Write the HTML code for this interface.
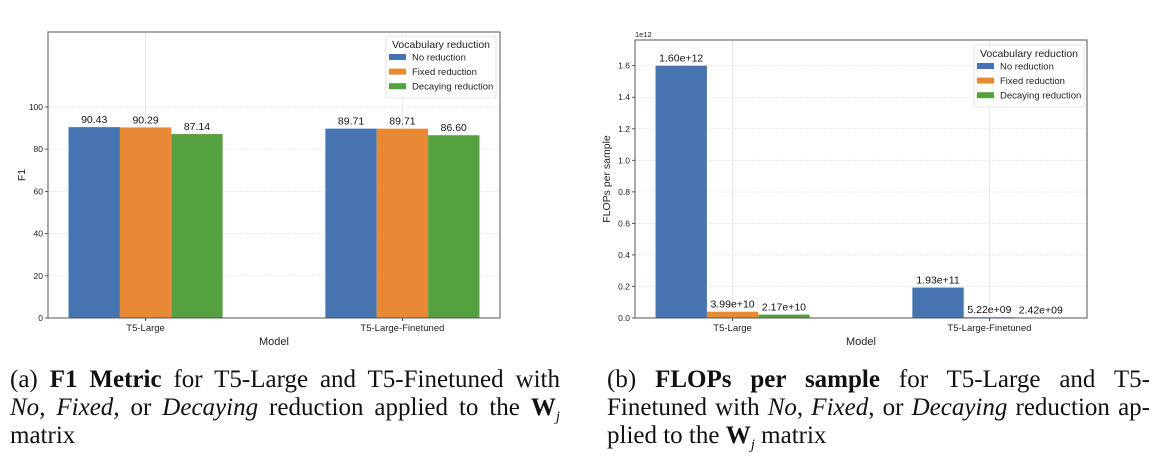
<!DOCTYPE html>
<html><head><meta charset="utf-8"><style>
body{margin:0;width:1168px;height:469px;background:#fff;overflow:hidden;position:relative;font-family:"Liberation Sans",sans-serif}
svg{position:absolute;left:0;top:0}
.cap{position:absolute;font-family:"Liberation Serif",serif;font-size:25px;line-height:28px;white-space:nowrap;color:#111}
.ln{display:block;text-align:justify;text-align-last:justify;height:28px}
</style></head><body>
<svg id="chart" width="1168" height="469" viewBox="0 0 1168 469"></svg>
<div class="cap" style="left:10px;top:366px;width:550px">
<span class="ln">(a) <b>F1 Metric</b> for T5-Large and T5-Finetuned with</span>
<span class="ln"><i>No</i>, <i>Fixed</i>, or <i>Decaying</i> reduction applied to the <b>W</b><sub style="font-size:15px"><i>j</i></sub></span>
<span class="ln" style="text-align-last:left">matrix</span>
</div>
<div class="cap" style="left:607px;top:366px;width:543px">
<span class="ln">(b) <b>FLOPs per sample</b> for T5-Large and T5-</span>
<span class="ln">Finetuned with <i>No</i>, <i>Fixed</i>, or <i>Decaying</i> reduction ap-</span>
<span class="ln" style="text-align-last:left">plied to the <b>W</b><sub style="font-size:15px"><i>j</i></sub> matrix</span>
</div>
<script>
const categories=["T5-Large","T5-Large-Finetuned"];
const seriesNames=["No reduction","Fixed reduction","Decaying reduction"];
const f1No=[90.43,89.71];
const f1Fixed=[90.29,89.71];
const f1Decay=[87.14,86.60];
const f1Labels=[["90.43","89.71"],["90.29","89.71"],["87.14","86.60"]];
const f1Ticks=[0,20,40,60,80,100];
const flNo=[1.60e12,1.93e11];
const flFixed=[3.99e10,5.22e9];
const flDecay=[2.17e10,2.42e9];
const flLabels=[["1.60e+12","1.93e+11"],["3.99e+10","5.22e+09"],["2.17e+10","2.42e+09"]];
const flTicks=[0,0.2e12,0.4e12,0.6e12,0.8e12,1.0e12,1.2e12,1.4e12,1.6e12];
const colors=["#4574b0","#e88a35","#55a03f"];
const svg=document.getElementById('chart');
const NS="http://www.w3.org/2000/svg";
function el(t,a,p){const e=document.createElementNS(NS,t);for(const k in a)e.setAttribute(k,a[k]);(p||svg).appendChild(e);return e;}
function draw(cfg){
  const g=el('g',{});
  
  
  const {L,R,T,B,ymax}=cfg;
  const xs=v=>L+(v+0.38)/(1.76)*(R-L);
  const ys=v=>B-v/ymax*(B-T);
  cfg.ticks.forEach((t,i)=>{
    const y=ys(t);
    const gl=el('line',{x1:L,x2:R,y1:y,y2:y,stroke:'#e4e4e4','stroke-width':0.8,'stroke-dasharray':'2,1'},g);
    
    
    el('line',{x1:L-3,x2:L,y1:y,y2:y,stroke:'#333','stroke-width':0.8},g);
    const tx=el('text',{x:L-5,y:y+3,'font-size':8.5,'text-anchor':'end',fill:'#222'},g);
    tx.textContent=cfg.tickFmt(t);
    
    
  });
  categories.forEach((c,i)=>{
    const x=xs(i);
    el('line',{x1:x,x2:x,y1:T,y2:B,stroke:'#e4e4e4','stroke-width':0.8},g);
  });
  cfg.series.forEach((s,si)=>{
    s.forEach((v,ci)=>{
      const x0=xs(ci+(si-1)*0.2-0.1), x1=xs(ci+(si-1)*0.2+0.1);
      const r=el('rect',{x:x0,y:ys(v),width:x1-x0,height:B-ys(v),fill:colors[si]},g);
      
      
      const t=el('text',{x:(x0+x1)/2,y:ys(v)-4,'font-size':10.5,'text-anchor':'middle',fill:'#111'},g);
      t.textContent=cfg.labels[si][ci];
      
      
    });
  });
  el('rect',{x:L,y:T,width:R-L,height:B-T,fill:'none',stroke:'#555','stroke-width':1},g);
  categories.forEach((c,i)=>{
    const x=xs(i);
    el('line',{x1:x,x2:x,y1:B,y2:B+3,stroke:'#333','stroke-width':0.8},g);
    const t=el('text',{x:x,y:B+13,'font-size':9.5,'text-anchor':'middle',fill:'#222'},g);
    t.textContent=c;
    
    
  });
  const xt=el('text',{x:(L+R)/2,y:B+27,'font-size':11,'text-anchor':'middle',fill:'#222'},g);
  xt.textContent='Model';
  
  
  const yt=el('text',{x:0,y:0,'font-size':10.5,'text-anchor':'middle',fill:'#222',transform:`translate(${cfg.ytx},${(T+B)/2}) rotate(-90)`},g);
  yt.textContent=cfg.ytitle;
  
  
  const lg=el('g',{},g);
  
  
  const lx=cfg.lx, ly=cfg.ly;
  el('rect',{x:lx,y:ly,width:110,height:62,fill:'#fff',stroke:'#ddd','stroke-width':0.8,rx:1.5},lg);
  const lt=el('text',{x:lx+55,y:ly+12,'font-size':10.5,'text-anchor':'middle',fill:'#222'},lg);
  lt.textContent='Vocabulary reduction';
  seriesNames.forEach((n,i)=>{
    const yy=ly+23+i*14.6;
    el('rect',{x:lx+3,y:yy-5,width:17,height:6,fill:colors[i]},lg);
    const t=el('text',{x:lx+26,y:yy+1.5,'font-size':9.5,fill:'#222'},lg);
    t.textContent=n;
    
    
  });
}
draw({name:'f1-chart',L:48,R:500,T:32,B:318,ymax:135.5,ticks:f1Ticks,tickFmt:t=>String(t),
  series:[f1No,f1Fixed,f1Decay],labels:f1Labels,ytitle:'F1',ytx:25,lx:386,ly:36});
draw({name:'flops-chart',L:635,R:1087,T:40,B:318,ymax:1.763e12,ticks:flTicks,tickFmt:t=>(t/1e12).toFixed(1),
  series:[flNo,flFixed,flDecay],labels:flLabels,ytitle:'FLOPs per sample',ytx:610,lx:974,ly:45});
const ex=el('text',{x:635,y:37,'font-size':7.5,fill:'#222'});
ex.textContent='1e12';


</script>
</body></html>
